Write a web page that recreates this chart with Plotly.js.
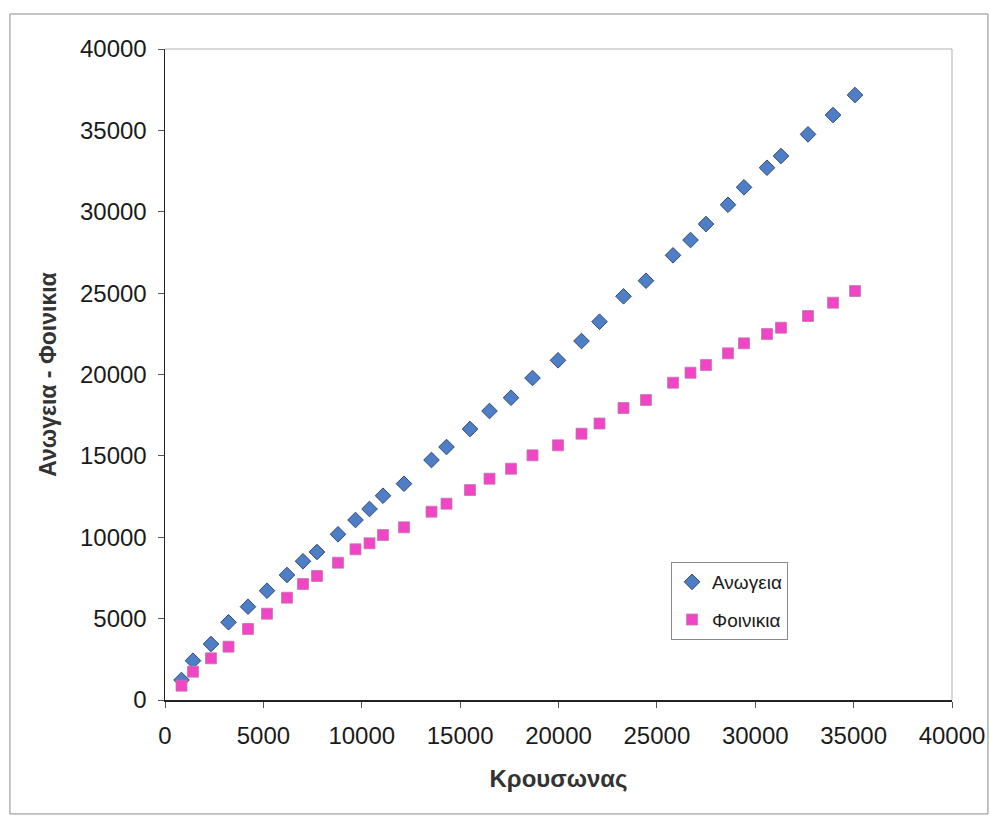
<!DOCTYPE html>
<html>
<head>
<meta charset="utf-8">
<script src="https://cdn.plot.ly/plotly-3.0.1.min.js"></script>
<style>
  html, body { margin: 0; padding: 0; background: #ffffff; }
  #chart { width: 990px; height: 818px; }
</style>
</head>
<body>
<div id="chart"></div>
<script>
// Krousonas population values (shared x for both series)
const krousonas = [839, 1423, 2338, 3227, 4219, 5184, 6201, 7014, 7726, 8793,
  9682, 10394, 11080, 12147, 13545, 14307, 15502, 16493, 17586, 18679,
  19975, 21169, 22084, 23304, 24447, 25820, 26709, 27497, 28615, 29428,
  30597, 31309, 32681, 33951, 35070];

// Anogeia series
const anogeia = [1229, 2415, 3441, 4774, 5732, 6715, 7680, 8522, 9093, 10181,
  11059, 11735, 12552, 13290, 14746, 15544, 16650, 17756, 18573, 19784,
  20871, 22057, 23243, 24804, 25762, 27323, 28262, 29245, 30431, 31500,
  32704, 33423, 34757, 35942, 37171];

// Foinikia series
const foinikia = [879, 1739, 2562, 3275, 4362, 5302, 6285, 7127, 7619, 8436,
  9259, 9628, 10138, 10611, 11569, 12061, 12902, 13597, 14211, 15034,
  15649, 16362, 16988, 17940, 18432, 19495, 20109, 20582, 21301, 21915,
  22487, 22874, 23593, 24410, 25129];

const seriesNames = ['Ανωγεια', 'Φοινικια'];
const xTitle = 'Κρουσωνας';
const yTitle = 'Ανωγεια - Φοινικια';
const tickVals = [0, 5000, 10000, 15000, 20000, 25000, 30000, 35000, 40000];

const font = 'Liberation Sans, Arial, sans-serif';

const traces = [
  {
    x: krousonas, y: anogeia, name: seriesNames[0],
    type: 'scatter', mode: 'markers', legendgroup: 'a',
    marker: { symbol: 'diamond', size: 12, color: '#4d7ec6',
              line: { color: '#34496e', width: 1 } }
  },
  {
    x: krousonas, y: foinikia, name: seriesNames[1],
    type: 'scatter', mode: 'markers', legendgroup: 'b',
    marker: { symbol: 'square', size: 11, color: '#f046c6',
              line: { color: '#c27aae', width: 0.8 } }
  }
];

const layout = {
  width: 990, height: 818,
  margin: { l: 165, r: 38, t: 49, b: 118 },
  paper_bgcolor: '#ffffff', plot_bgcolor: '#ffffff',
  font: { family: font, color: '#1a1a1a', size: 24 },
  showlegend: true,
  legend: {
    x: 0.643, y: 0.212, xanchor: 'left', yanchor: 'top',
    bgcolor: '#ffffff', bordercolor: '#8a8a8a', borderwidth: 1,
    font: { family: font, size: 19, color: '#1a1a1a' },
    traceorder: 'grouped', tracegroupgap: 10,
    itemwidth: 30
  },
  xaxis: {
    range: [0, 40000], tickvals: tickVals, ticktext: tickVals.map(String),
    showgrid: false, zeroline: false,
    showline: true, linecolor: '#222', linewidth: 1.5,
    ticks: 'outside', ticklen: 6, tickcolor: '#555', tickwidth: 1,
    ticklabelstandoff: 8,
    tickfont: { family: font, size: 24, color: '#1a1a1a' },
    title: { text: xTitle, font: { family: font, size: 24, color: '#333', weight: 'bold' }, standoff: 22 }
  },
  yaxis: {
    range: [0, 40000], tickvals: tickVals, ticktext: tickVals.map(String),
    showgrid: false, zeroline: false,
    showline: true, linecolor: '#222', linewidth: 1.5,
    ticks: 'outside', ticklen: 6, tickcolor: '#555', tickwidth: 1,
    ticklabelstandoff: 6,
    tickfont: { family: font, size: 24, color: '#1a1a1a' },
    title: { text: yTitle, font: { family: font, size: 23, color: '#333', weight: 'bold' }, standoff: 17 }
  },
  shapes: [
    // light top and right edges of the plot area
    { type: 'line', xref: 'paper', yref: 'paper', x0: 0, x1: 1, y0: 1, y1: 1,
      line: { color: '#b0b0b0', width: 1 } },
    { type: 'line', xref: 'paper', yref: 'paper', x0: 1, x1: 1, y0: 0, y1: 1,
      line: { color: '#b0b0b0', width: 1 } },
    // outer chart frame
    { type: 'rect', xref: 'paper', yref: 'paper',
      x0: -0.197, x1: 1.0457, y0: -0.175, y1: 1.0538,
      line: { color: '#8a8a8a', width: 1 } }
  ]
};

Plotly.newPlot('chart', traces, layout, { staticPlot: true, displayModeBar: false });
</script>
</body>
</html>
